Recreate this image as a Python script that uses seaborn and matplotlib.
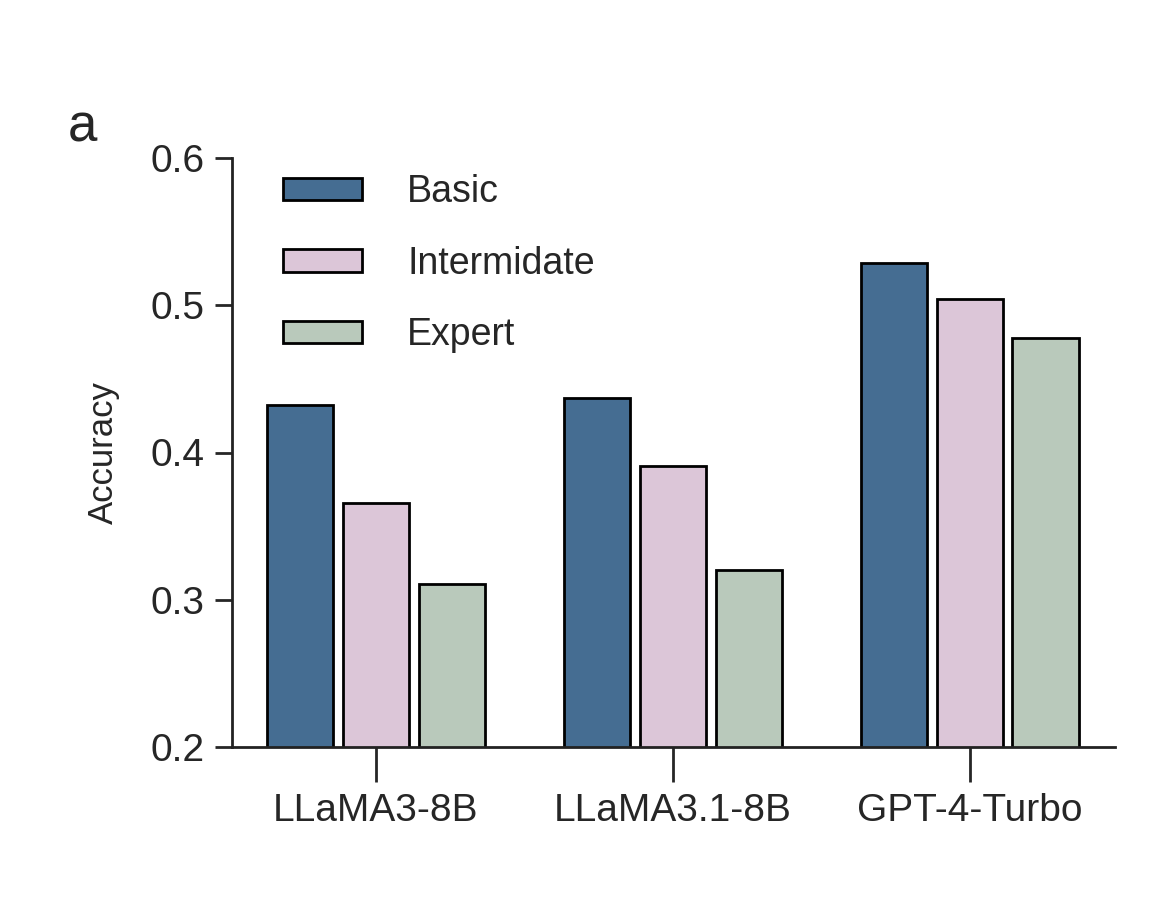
import matplotlib
matplotlib.use("Agg")
import matplotlib.pyplot as plt
import seaborn as sns
import pandas as pd

models = ["LLaMA3-8B", "LLaMA3.1-8B", "GPT-4-Turbo"]
levels = ["Basic", "Intermidate", "Expert"]
basic = [0.432, 0.437, 0.529]
inter = [0.366, 0.391, 0.504]
expert = [0.311, 0.320, 0.478]
colors = ["#456d92", "#dcc6d8", "#b9c9bb"]

rows = []
for vals, lv in zip([basic, inter, expert], levels):
    for m, v in zip(models, vals):
        rows.append({"model": m, "level": lv, "acc": v})
df = pd.DataFrame(rows)

sns.set_style("ticks")
plt.rcParams['font.family'] = ['Liberation Sans', 'DejaVu Sans']

fig = plt.figure(figsize=(11.63, 9.08), dpi=100)
ax = fig.add_axes([232/1163, 1-747/908, (1115-232)/1163, (747-158)/908])
sns.barplot(data=df, x="model", y="acc", hue="level", palette=colors,
            width=0.768, gap=0.13, edgecolor="black", linewidth=2,
            saturation=1, ax=ax)
ax.set_ylim(0.2, 0.6)
ax.set_xlim(-0.485, 2.49)
ax.set_yticks([0.2, 0.3, 0.4, 0.5, 0.6])
ax.set_yticklabels(["0.2", "0.3", "0.4", "0.5", "0.6"])
ax.set_xlabel("")
ax.set_ylabel("Accuracy", fontsize=25, labelpad=22)
ax.tick_params(axis='y', labelsize=28, length=12, width=2, pad=8)
ax.tick_params(axis='x', labelsize=28, length=25, width=2, pad=8)
for s in ["top", "right"]:
    ax.spines[s].set_visible(False)
for s in ["left", "bottom"]:
    ax.spines[s].set_linewidth(2)
    ax.spines[s].set_color("#222222")
leg = ax.legend(loc="upper left", bbox_to_anchor=(0.02, 1.03), frameon=False,
                fontsize=27, handlelength=2.1, handleheight=0.55,
                handletextpad=1.2, labelspacing=0.95)
fig.text(68/1163, 1-128/908, "a", fontsize=38, va="center")
fig.savefig("out.png", dpi=100)
